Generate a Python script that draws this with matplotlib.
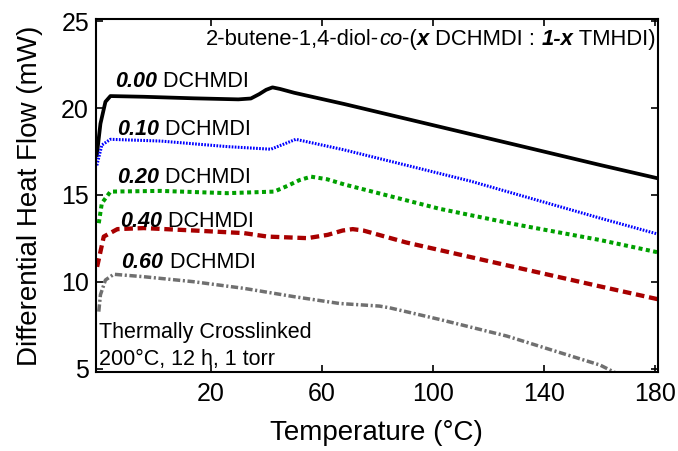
import matplotlib
matplotlib.use("Agg")
from matplotlib import pyplot as plt

plt.rcParams['font.family'] = ['Liberation Sans', 'DejaVu Sans']

# --- data (temperature in C, heat flow in mW) ---
t_000 = [-21, -19.7, -17.9, -16.1, -4.1, 14, 30, 34.5, 37.5, 40, 42.3, 45, 50.1, 68.2, 100, 130, 160.4, 181]
hf_000 = [17.3, 19.1, 20.36, 20.69, 20.65, 20.56, 20.5, 20.55, 20.8, 21.05, 21.19, 21.1, 20.88, 20.23, 19.02, 17.88, 16.72, 15.96]

t_010 = [-21, -19.2, -16.1, 2, 26, 41.7, 46, 50.7, 55, 68.2, 113.5, 160.4, 181]
hf_010 = [16.7, 17.87, 18.2, 18.1, 17.78, 17.63, 17.9, 18.2, 18.05, 17.59, 15.8, 13.66, 12.75]

t_020 = [-20.3, -19.2, -16.1, 2, 26, 42.9, 47.7, 52, 56.2, 62, 68.2, 102.5, 130, 160.4, 181]
hf_020 = [13.37, 14.52, 15.19, 15.23, 15.1, 15.19, 15.52, 15.85, 16.05, 15.9, 15.6, 14.2, 13.3, 12.4, 11.7]

t_040 = [-20.9, -18.5, -13.6, -4.1, 14, 32, 40.5, 54.9, 62.2, 67.6, 71.2, 75, 90.5, 120.6, 160.4, 181]
hf_040 = [10.86, 12.6, 13.03, 13.09, 12.95, 12.8, 12.6, 12.51, 12.7, 12.95, 13.03, 12.95, 12.26, 11.17, 9.73, 9.0]

t_060 = [-20.3, -19.7, -17.9, -14.9, -4.1, 14, 32, 50.1, 66.4, 80.8, 84.5, 102.5, 126.6, 160.4, 166]
hf_060 = [8.28, 9.25, 10.1, 10.43, 10.29, 10.0, 9.62, 9.14, 8.75, 8.6, 8.5, 7.83, 6.88, 5.2, 4.75]

fractions = ['0.00', '0.10', '0.20', '0.40', '0.60']
label_t = [-14.5, -13.8, -13.8, -12.7, -12.1]
label_hf = [21.21, 18.45, 15.68, 13.15, 10.79]

xticks = [20, 60, 100, 140, 180]
yticks = [5, 10, 15, 20, 25]


def chain_text(ax, x, y, parts, size, **kw):
    """write several differently styled pieces one after another"""
    prev = None
    for s, style, weight in parts:
        if prev is None:
            prev = ax.text(x, y, s, fontsize=size, style=style, weight=weight,
                           ha='left', va='baseline', **kw)
        else:
            prev = ax.annotate(s, xy=(1, 0), xycoords=prev, fontsize=size,
                               style=style, weight=weight, ha='left', va='bottom')
    return prev


fig = plt.figure(figsize=(6.78, 4.51), dpi=100)
ax = fig.add_axes([0.1416, 0.175, 0.8284, 0.783])

ax.plot(t_000, hf_000, color='black', lw=2.7, solid_joinstyle='round')
ax.plot(t_010, hf_010, color='#0000ff', lw=2.2, linestyle=(0, (0.55, 0.45)))
ax.plot(t_020, hf_020, color='#00a000', lw=2.9, linestyle=(0, (1.0, 0.85)))
ax.plot(t_040, hf_040, color='#a80000', lw=3.1, linestyle=(0, (2.0, 1.1)))
ax.plot(t_060, hf_060, color='#707070', lw=2.5, linestyle=(0, (2.1, 0.75, 0.6, 0.75)))

for frac, tx, ty in zip(fractions, label_t, label_hf):
    chain_text(ax, tx, ty, [(frac, 'italic', 'bold'), (' DCHMDI', 'normal', 'normal')], 15.5)

chain_text(ax, 0.196, 0.926,
           [('2-butene-1,4-diol-', 'normal', 'normal'), ('co', 'italic', 'normal'),
            ('-(', 'normal', 'normal'), ('x', 'italic', 'bold'),
            (' DCHMDI : ', 'normal', 'normal'), ('1-x', 'italic', 'bold'),
            (' TMHDI)', 'normal', 'normal')], 15.8, transform=ax.transAxes)

ax.text(0.005, 0.096, 'Thermally Crosslinked', transform=ax.transAxes,
        fontsize=15.5, va='baseline')
ax.text(0.005, 0.02, '200°C, 12 h, 1 torr', transform=ax.transAxes,
        fontsize=15.5, va='baseline')

ax.set_xlim(-21.3, 181.1)
ax.set_ylim(4.8, 25.13)
ax.set_xticks(xticks)
ax.set_yticks(yticks)
ax.tick_params(direction='in', top=True, right=True, length=5, width=1.2,
               labelsize=18)
ax.tick_params(axis='x', pad=7)
ax.tick_params(axis='y', pad=5)
for sp in ax.spines.values():
    sp.set_linewidth(1.5)

ax.set_xlabel('Temperature (°C)', fontsize=20, labelpad=10)
ax.set_ylabel('Differential Heat Flow (mW)', fontsize=20, labelpad=13)

fig.savefig('out.png', dpi=100)
